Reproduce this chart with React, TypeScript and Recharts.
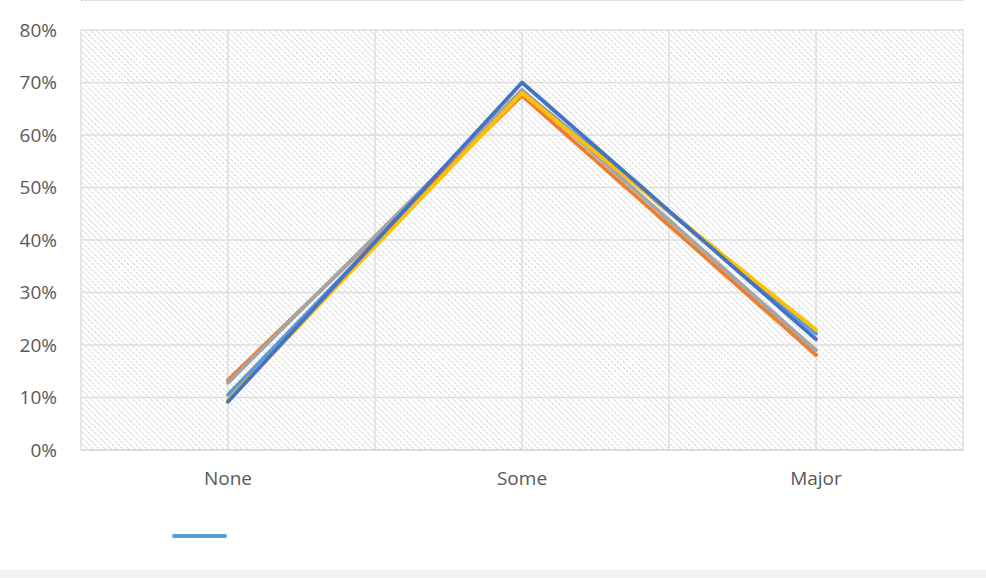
import React from "react";
import {
  LineChart,
  Line,
  XAxis,
  YAxis,
  CartesianGrid,
  Legend,
} from "recharts";

const categories = ["None", "Some", "Major"];
const lightBlue = [0.105, 0.685, 0.222];
const orange = [0.133, 0.675, 0.181];
const gray = [0.128, 0.686, 0.19];
const yellow = [0.095, 0.68, 0.229];
const darkBlue = [0.092, 0.7, 0.211];
const yTicks = [0, 0.1, 0.2, 0.3, 0.4, 0.5, 0.6, 0.7, 0.8];

const data = categories.map((c, i) => ({
  name: c,
  s1: lightBlue[i],
  s2: orange[i],
  s3: gray[i],
  s4: yellow[i],
  s5: darkBlue[i],
}));

const series = [
  { key: "s1", color: "#5B9BD5" },
  { key: "s2", color: "#ED7D31" },
  { key: "s3", color: "#A5A5A5" },
  { key: "s4", color: "#FFC000" },
  { key: "s5", color: "#4472C4" },
];

const font = "'Open Sans', 'Liberation Sans', Arial, sans-serif";

export default function App() {
  return (
    <div style={{ position: "absolute", left: 0, top: 0, width: 986, height: 578, background: "#fff" }}>
      <svg width={0} height={0} style={{ position: "absolute" }}>
        <defs>
          <pattern id="hatch" width={4.2} height={4.2} patternUnits="userSpaceOnUse" patternTransform="rotate(-45)">
            <line x1={0} y1={0} x2={0} y2={4.2} stroke="#cdcdcd" strokeWidth={1.4} strokeDasharray="1.6 1" />
          </pattern>
        </defs>
      </svg>
      <div
        style={{
          position: "absolute",
          left: 81,
          top: 0,
          width: 882,
          borderTop: "1.5px dotted #c8c8c8",
        }}
      />
      <LineChart
        width={986}
        height={578}
        data={data}
        margin={{ top: 30, right: 23, left: 0, bottom: 0 }}
      >
        <CartesianGrid
          stroke="#dedede"
          strokeWidth={1.5}
          fill="url(#hatch)"
          fillOpacity={1}
          verticalCoordinatesGenerator={({ offset }: any) =>
            [0, 1, 2, 3, 4, 5, 6].map((i) => offset.left + (offset.width * i) / 6)
          }
        />
        <XAxis
          dataKey="name"
          scale="band"
          height={98}
          tickLine={false}
          axisLine={{ stroke: "#d9d9d9", strokeWidth: 1.5 }}
          tickMargin={16}
          tick={{ fontSize: 19, fill: "#595959", fontFamily: font }}
          interval={0}
        />
        <YAxis
          width={81}
          domain={[0, 0.8]}
          ticks={yTicks}
          tickLine={false}
          axisLine={false}
          tickSize={0}
          tickMargin={24}
          tickFormatter={(v: number) => `${Math.round(v * 100)}%`}
          tick={{ fontSize: 19, fill: "#595959", fontFamily: font }}
        />
        <Legend
          verticalAlign="bottom"
          content={() => (
            <div style={{ position: "relative", height: 30 }}>
              <div
                style={{
                  position: "absolute",
                  left: 172,
                  top: 1,
                  width: 55,
                  height: 4,
                  borderRadius: 2,
                  background: series[0].color,
                }}
              />
            </div>
          )}
          wrapperStyle={{ left: 0, bottom: 15, width: 986 }}
        />
        {series.map((s) => (
          <Line
            key={s.key}
            dataKey={s.key}
            type="linear"
            stroke={s.color}
            strokeWidth={3.8}
            strokeLinecap="round"
            strokeLinejoin="round"
            dot={false}
            activeDot={false}
            legendType="line"
            isAnimationActive={false}
          />
        ))}
      </LineChart>
      <div
        style={{
          position: "absolute",
          left: 0,
          top: 570,
          width: 986,
          height: 8,
          background: "#f2f2f2",
        }}
      />
    </div>
  );
}
